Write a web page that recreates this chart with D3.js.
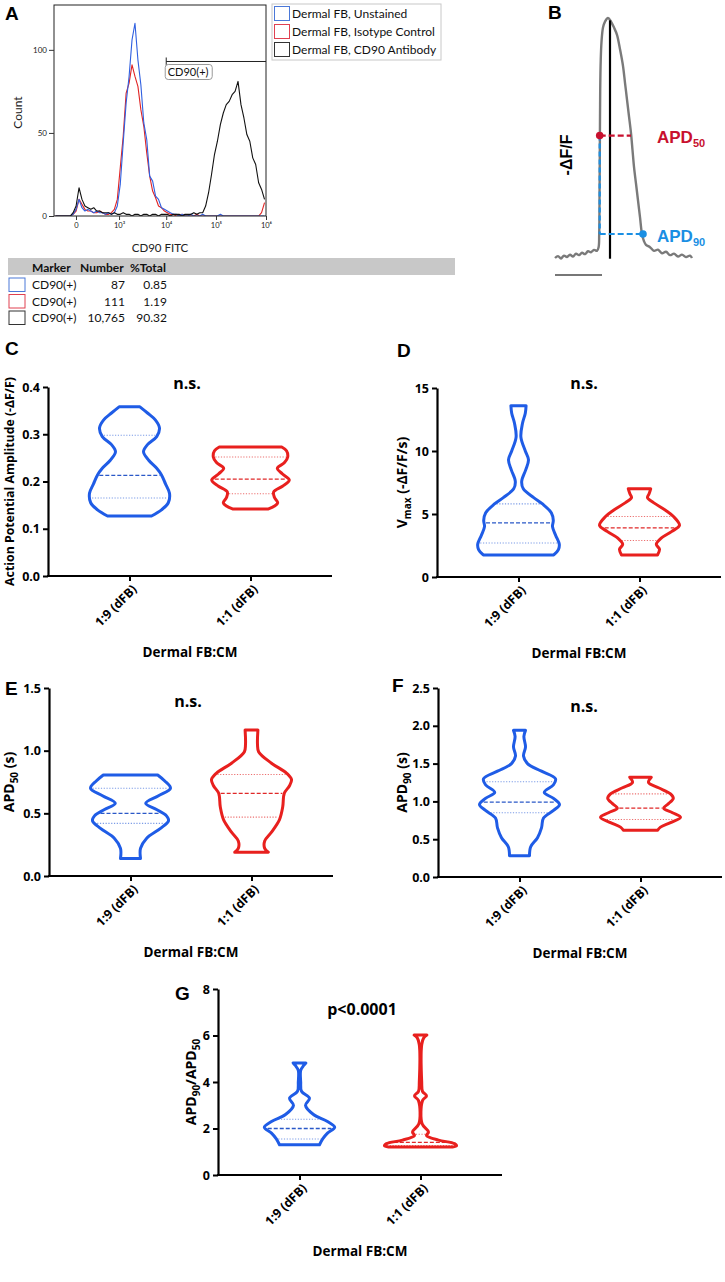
<!DOCTYPE html>
<html><head><meta charset="utf-8">
<script src="https://cdn.jsdelivr.net/npm/d3@7/dist/d3.min.js"></script>
<style>html,body{margin:0;padding:0;background:#fff;} svg{display:block;}</style>
</head><body>
<svg id="fig" width="725" height="1282"></svg>
<script>
// ================= DATA =================
// Panel A: flow cytometry histograms (counts per display channel)
const histUnstained = [0,0,0,0,0,0,1, 4,10,5,3,4,3,2,3,2,2,1,2,1,2,
  6,19,44,68,84,106,116,94,79,56,46,24,21,12,10,5,4,3,2,1,1,
  0,1,0,0,1,0,0,0,1,0,0,0,0,0,1,0,0,0,0,0,0,0,0,0,0,0,0,0,0,0];
const histIsotype = [0,0,0,0,0,0,1, 3,10,7,4,3,3,2,2,3,2,1,1,2,4,
  10,29,48,74,80,91,84,78,64,54,38,24,15,11,6,5,3,2,1,1,
  0,0,1,0,0,0,0,1,0,0,0,0,0,0,0,0,0,0,0,0,0,0,0,0,0,0,0,0,0,2,8];
const histCD90 = [0,0,0,0,0,0,2, 6,17,10,6,5,4,5,3,3,2,2,2,1,2,
  1,1,2,1,1,0,1,1,0,1,1,0,1,1,0,1,1,1,0,1,1,1,0,1,1,1,2,1,2,2,
  6,14,25,37,45,55,62,67,69,73,75,81,67,59,49,45,35,31,20,16,10];
const fitcTicks = [0, 1e3, 1e4, 1e5, 1e6];
const fitcTickLabels = ["0", "10³", "10⁴", "10⁵", "10⁶"];
const countTicks = [0, 50, 100];
const histSeriesNames = ["Dermal FB, Unstained", "Dermal FB, Isotype Control", "Dermal FB, CD90 Antibody"];
const gateLabel = "CD90(+)";
const gateRange = [1e4, 1e6];
const gateCount = 93;
const tableHeader = ["Marker", "Number", "%Total"];
const tableMarker = ["CD90(+)", "CD90(+)", "CD90(+)"];
const tableNumber = ["87", "111", "10,765"];
const tablePercent = ["0.85", "1.19", "90.32"];

// Panel B: optical action potential trace (time ms, normalized -dF/F)
const traceTime = [0,30,60,90,120,150,180,210,240,270,300,330,360,390,420,436,442,446,449,452,457,465,480,500,530,
  560,590,620,650,680,700,720,740,760,775,790,810,830,850,870,890,910,950,990,1030,1070,1110,1150,1190,1230,1270,1310,1350,1370];
const traceValue = [0.0,0.008,-0.002,0.01,0.004,0.014,0.006,0.018,0.012,0.022,0.016,0.028,0.024,0.034,0.03,0.045,0.1,0.3,0.5,0.7,0.82,0.9,0.96,0.985,1.0,
  0.985,0.96,0.93,0.87,0.80,0.73,0.66,0.59,0.52,0.45,0.38,0.31,0.24,0.17,0.10,0.07,0.055,0.045,0.03,0.035,0.02,0.026,0.012,0.018,0.006,0.014,0.004,0.01,0.0];
const peakTime = 550;
const apd50 = {level: 0.51, start: 447, end: 760};
const apd90 = {level: 0.10, start: 447, end: 880};
const scaleBarMs = 500;

// Panels C-G: violin profiles [value, relative density], quartiles [Q1, median, Q3]
const groupLabels = ["1:9 (dFB)", "1:1 (dFB)"];
const ampBlue = [[0.358,0.26],[0.345,0.45],[0.33,0.65],[0.313,0.75],[0.295,0.68],[0.278,0.45],[0.263,0.35],[0.245,0.48],[0.228,0.68],[0.214,0.8],[0.195,0.9],[0.175,1.0],[0.155,0.97],[0.14,0.8],[0.127,0.55]];
const ampRed = [[0.273,0.78],[0.265,0.9],[0.252,0.93],[0.24,0.85],[0.228,0.67],[0.216,0.8],[0.203,0.97],[0.19,0.8],[0.178,0.58],[0.166,0.6],[0.155,0.68],[0.148,0.6],[0.142,0.45]];
const ampQuartBlue = [0.165, 0.213, 0.298];
const ampQuartRed = [0.174, 0.205, 0.252];

const vmaxBlue = [[13.6,0.19],[13.0,0.17],[12.2,0.1],[11.1,0.06],[10.0,0.17],[9.3,0.25],[8.5,0.18],[7.6,0.08],[7.0,0.12],[6.3,0.38],[5.8,0.6],[5.1,0.82],[4.5,0.87],[4.0,0.85],[3.3,0.93],[2.6,1.02],[2.2,1.0],[1.75,0.88]];
const vmaxRed = [[7.0,0.28],[6.6,0.24],[6.3,0.2],[5.9,0.35],[5.3,0.65],[4.8,0.85],[4.1,1.0],[3.6,0.8],[3.1,0.55],[2.6,0.42],[2.2,0.5],[1.75,0.45]];
const vmaxQuartBlue = [2.7, 4.3, 5.8];
const vmaxQuartRed = [2.9, 3.9, 4.8];

const apd50Blue = [[0.806,0.68],[0.76,0.85],[0.70,1.0],[0.64,0.7],[0.58,0.38],[0.53,0.65],[0.48,0.9],[0.44,0.95],[0.38,0.75],[0.30,0.4],[0.22,0.25],[0.14,0.25]];
const apd50Red = [[1.165,0.16],[1.05,0.15],[0.99,0.18],[0.90,0.5],[0.82,0.88],[0.77,1.0],[0.72,0.95],[0.66,0.82],[0.55,0.78],[0.45,0.7],[0.35,0.5],[0.28,0.33],[0.22,0.33],[0.19,0.42]];
const apd50QuartBlue = [0.42, 0.50, 0.70];
const apd50QuartRed = [0.47, 0.66, 0.81];

const apd90Blue = [[1.94,0.15],[1.86,0.11],[1.72,0.15],[1.6,0.1],[1.5,0.2],[1.4,0.55],[1.3,0.9],[1.22,0.85],[1.12,0.62],[1.04,0.85],[0.96,1.0],[0.88,0.85],[0.78,0.6],[0.65,0.55],[0.52,0.45],[0.4,0.28],[0.28,0.25]];
const apd90Red = [[1.32,0.27],[1.25,0.2],[1.18,0.45],[1.1,0.75],[1.04,0.82],[0.97,0.7],[0.91,0.58],[0.85,0.8],[0.79,1.0],[0.72,0.75],[0.66,0.5],[0.62,0.43]];
const apd90QuartBlue = [0.85, 0.99, 1.26];
const apd90QuartRed = [0.76, 0.91, 1.10];

const ratioBlue = [[4.82,0.16],[4.7,0.1],[4.5,0.03],[4.0,0.03],[3.6,0.05],[3.3,0.25],[3.0,0.15],[2.6,0.35],[2.3,0.7],[2.05,0.88],[1.8,0.7],[1.55,0.58],[1.3,0.5]];
const ratioRed = [[6.02,0.16],[5.9,0.08],[5.6,0.03],[4.0,0.03],[3.6,0.05],[3.4,0.15],[3.2,0.05],[2.2,0.04],[1.85,0.2],[1.7,0.15],[1.5,0.45],[1.35,0.85],[1.25,0.9],[1.2,0.8]];
const ratioQuartBlue = [1.55, 2.0, 2.4];
const ratioQuartRed = [1.27, 1.4, 1.75];

// ================= DRAWING =================
const svg = d3.select("#fig");
const LETTER_FONT = "bold 19px 'Liberation Sans', Arial, sans-serif";
const A_FONT = "Lato, 'Open Sans', sans-serif";
const V_FONT = "'Open Sans', sans-serif";

function letter(t, x, y) {
  svg.append("text").attr("x", x).attr("y", y).style("font", LETTER_FONT).attr("fill", "#000").text(t);
}

// ---------- Panel A ----------
(function () {
  const A = {left: 54, right: 266, top: 5, bottom: 216};
  const xChan = d3.scaleLinear().domain([0, histUnstained.length]).range([A.left, A.right]);
  const xFitc = d3.scaleSymlog().constant(160).domain([-280, 1e6]).range([A.left, A.right]);
  const yCount = d3.scaleLinear().domain([0, 127]).range([A.bottom, A.top]);
  const g = svg.append("g");
  letter("A", 5, 20);
  g.append("defs").append("clipPath").attr("id", "clipA").append("rect")
    .attr("x", A.left).attr("y", A.top).attr("width", A.right - A.left).attr("height", A.bottom - A.top);
  const line = d3.line().x((d, i) => xChan(i + 0.5)).y(d => yCount(d));
  [[histIsotype, "#e02424"], [histUnstained, "#2f5fe0"], [histCD90, "#111111"]].forEach(([s, col]) => {
    g.append("path").attr("clip-path", "url(#clipA)").attr("d", line(s))
      .attr("fill", "none").attr("stroke", col).attr("stroke-width", 1.1).attr("stroke-linejoin", "round");
  });
  g.append("rect").attr("x", A.left).attr("y", A.top).attr("width", A.right - A.left).attr("height", A.bottom - A.top)
    .attr("fill", "none").attr("stroke", "#222").attr("stroke-width", 1);
  const ya = g.append("g").attr("transform", `translate(${A.left},0)`)
    .call(d3.axisLeft(yCount).tickValues(countTicks).tickSize(5).tickPadding(2));
  ya.select(".domain").remove();
  ya.selectAll(".tick line").attr("stroke", "#333");
  ya.selectAll(".tick text").style("font", `8px ${A_FONT}`).attr("fill", "#222");
  const xa = g.append("g").attr("transform", `translate(0,${A.bottom})`)
    .call(d3.axisBottom(xFitc).tickValues(fitcTicks).tickFormat((d, i) => fitcTickLabels[i]).tickSize(4).tickPadding(3));
  xa.select(".domain").remove();
  xa.selectAll(".tick line").attr("stroke", "#333");
  xa.selectAll(".tick text").style("font", `7.5px ${A_FONT}`).attr("fill", "#222");
  g.append("text").attr("transform", `translate(22,${(A.top + A.bottom) / 2 + 2}) rotate(-90)`).attr("text-anchor", "middle")
    .style("font", `12px ${A_FONT}`).attr("fill", "#222").text("Count");
  g.append("text").attr("x", 160).attr("y", 252).attr("text-anchor", "middle")
    .style("font", `11.5px ${A_FONT}`).attr("fill", "#222").text("CD90 FITC");
  // gate
  const gy = yCount(gateCount);
  g.append("line").attr("x1", xFitc(gateRange[0])).attr("x2", xFitc(gateRange[1])).attr("y1", gy).attr("y2", gy).attr("stroke", "#222");
  g.append("line").attr("x1", xFitc(gateRange[0])).attr("x2", xFitc(gateRange[0])).attr("y1", gy - 4).attr("y2", gy + 4).attr("stroke", "#222");
  g.append("rect").attr("x", xFitc(gateRange[0]) - 1).attr("y", gy + 3).attr("width", 47).attr("height", 15).attr("rx", 3)
    .attr("fill", "#fff").attr("stroke", "#999");
  g.append("text").attr("x", xFitc(gateRange[0]) + 1.5).attr("y", gy + 14.5).style("font", `11px ${A_FONT}`).attr("fill", "#111").text(gateLabel);
  // legend
  const swatch = ["#4a78d8", "#e04050", "#333"];
  const lg = g.append("g");
  lg.append("rect").attr("x", 272).attr("y", 4).attr("width", 169).attr("height", 56).attr("fill", "#fff").attr("stroke", "#c8c8c8");
  histSeriesNames.forEach((n, i) => {
    lg.append("rect").attr("x", 274.5).attr("y", 6.5 + i * 18).attr("width", 15).attr("height", 14)
      .attr("fill", "#fff").attr("stroke", swatch[i]).attr("stroke-width", 1);
    lg.append("text").attr("x", 292).attr("y", 18 + i * 18).style("font", `12px ${A_FONT}`).attr("fill", "#111").text(n);
  });
  // table
  const tg = g.append("g");
  tg.append("rect").attr("x", 8).attr("y", 258).attr("width", 447).attr("height", 17).attr("fill", "#c8c8c8");
  [32, 80, 130].forEach((hx, i) => {
    tg.append("text").attr("x", hx).attr("y", 271.5).style("font", `bold 12px ${A_FONT}`).attr("fill", "#111").text(tableHeader[i]);
  });
  tableMarker.forEach((m, i) => {
    const yb = 289 + i * 16.5;
    tg.append("rect").attr("x", 9).attr("y", yb - 11).attr("width", 16).attr("height", 13.5)
      .attr("fill", "#fff").attr("stroke", swatch[i]).attr("stroke-width", 1);
    tg.append("text").attr("x", 32).attr("y", yb).style("font", `12px ${A_FONT}`).attr("fill", "#111").text(m);
    tg.append("text").attr("x", 125).attr("y", yb).attr("text-anchor", "end").style("font", `12px ${A_FONT}`).attr("fill", "#111").text(tableNumber[i]);
    tg.append("text").attr("x", 167).attr("y", yb).attr("text-anchor", "end").style("font", `12px ${A_FONT}`).attr("fill", "#111").text(tablePercent[i]);
  });
})();

// ---------- Panel B ----------
(function () {
  const g = svg.append("g");
  letter("B", 548, 19);
  const xt = d3.scaleLinear().domain([0, 1370]).range([555, 692]);
  const yv = d3.scaleLinear().domain([0, 1]).range([258, 18]);
  const pts = traceTime.map((t, i) => [t, traceValue[i]]);
  g.append("path").attr("d", d3.line().x(d => xt(d[0])).y(d => yv(d[1])).curve(d3.curveCatmullRom)(pts))
    .attr("fill", "none").attr("stroke", "#7a7a7a").attr("stroke-width", 2.4).attr("stroke-linejoin", "round");
  g.append("line").attr("x1", xt(peakTime)).attr("x2", xt(peakTime)).attr("y1", yv(0.99)).attr("y2", yv(-0.003))
    .attr("stroke", "#000").attr("stroke-width", 2.2);
  const red = "#c8102e", blue = "#1a8fe3";
  g.append("line").attr("x1", xt(apd90.start)).attr("x2", xt(apd90.start)).attr("y1", yv(apd50.level)).attr("y2", yv(apd90.level))
    .attr("stroke", blue).attr("stroke-width", 2.2).attr("stroke-dasharray", "5,3");
  g.append("line").attr("x1", xt(apd90.start)).attr("x2", xt(apd90.end)).attr("y1", yv(apd90.level)).attr("y2", yv(apd90.level))
    .attr("stroke", blue).attr("stroke-width", 2.2).attr("stroke-dasharray", "6,3");
  g.append("line").attr("x1", xt(apd50.start)).attr("x2", xt(apd50.end)).attr("y1", yv(apd50.level)).attr("y2", yv(apd50.level))
    .attr("stroke", red).attr("stroke-width", 2.2).attr("stroke-dasharray", "6,3");
  g.append("circle").attr("cx", xt(apd50.start)).attr("cy", yv(apd50.level)).attr("r", 3.8).attr("fill", red);
  g.append("circle").attr("cx", xt(apd90.end)).attr("cy", yv(apd90.level)).attr("r", 3.8).attr("fill", blue);
  const f = "'Liberation Sans', Arial, sans-serif";
  const t1 = g.append("text").attr("x", 657).attr("y", yv(apd50.level) + 7).attr("fill", red).style("font", `bold 17px ${f}`);
  t1.append("tspan").text("APD");
  t1.append("tspan").attr("dy", 4).style("font-size", "11px").text("50");
  const t2 = g.append("text").attr("x", 657).attr("y", yv(apd90.level) + 8).attr("fill", blue).style("font", `bold 17px ${f}`);
  t2.append("tspan").text("APD");
  t2.append("tspan").attr("dy", 4).style("font-size", "11px").text("90");
  g.append("text").attr("transform", `translate(572,155) rotate(-90)`).attr("text-anchor", "middle")
    .style("font", `bold 16px ${f}`).attr("fill", "#000").text("-ΔF/F");
  g.append("line").attr("x1", xt(0)).attr("x2", xt(scaleBarMs) - 3).attr("y1", 275).attr("y2", 275)
    .attr("stroke", "#777").attr("stroke-width", 2.2);
})();

// ---------- Violin panels ----------
const violinColors = ["#1f5ce6", "#e8201e"];
const medianColors = ["#2a58c8", "#e02828"];
const quartColors = ["#7b9be6", "#ec7070"];

function halfWidthAt(profile, v) {
  for (let i = 0; i < profile.length - 1; i++) {
    const a = profile[i], b = profile[i + 1];
    if (v <= a[0] && v >= b[0]) { const t = (a[0] - v) / (a[0] - b[0]); return a[1] + t * (b[1] - a[1]); }
  }
  return 0;
}

function drawViolinPanel(cfg) {
  const g = svg.append("g");
  letter(cfg.letter, cfg.letterPos[0], cfg.letterPos[1]);
  const y = d3.scaleLinear().domain(cfg.domain).range([cfg.bottom, cfg.top]);
  const x = d3.scalePoint().domain(groupLabels).range([cfg.left + 81.5, cfg.left + 202.5]);
  const w = d3.scaleLinear().domain([0, 1]).range([0, 40]);

  const ya = g.append("g").attr("transform", `translate(${cfg.left},0)`)
    .call(d3.axisLeft(y).tickValues(cfg.ticks).tickFormat(d3.format(cfg.fmt)).tickSize(5).tickSizeOuter(0).tickPadding(3));
  ya.select(".domain").attr("stroke", "#000").attr("stroke-width", 2.2);
  ya.selectAll(".tick line").attr("stroke", "#000").attr("stroke-width", 2);
  ya.selectAll(".tick text").attr("fill", "#000").style("font", `bold 12.5px ${V_FONT}`);
  g.append("line").attr("x1", cfg.left - 1).attr("x2", cfg.left + 284).attr("y1", y(0)).attr("y2", y(0))
    .attr("stroke", "#000").attr("stroke-width", 2.2);
  const xa = g.append("g").attr("transform", `translate(0,${y(0)})`)
    .call(d3.axisBottom(x).tickSize(5).tickSizeOuter(0).tickFormat(""));
  xa.select(".domain").remove();
  xa.selectAll(".tick line").attr("stroke", "#000").attr("stroke-width", 2);
  groupLabels.forEach(lab => {
    g.append("text").attr("transform", `translate(${x(lab) + 5},${y(0) + 11}) rotate(-45)`)
      .attr("text-anchor", "end").attr("dy", "0.35em").style("font", `bold 12.5px ${V_FONT}`).attr("fill", "#000").text(lab);
  });
  g.append("text").attr("x", cfg.left + 142).attr("y", y(0) + 81).attr("text-anchor", "middle")
    .style("font", `bold 13.5px ${V_FONT}`).attr("fill", "#000").text("Dermal FB:CM");
  g.append("text").attr("x", cfg.sigX).attr("y", cfg.sigY).attr("text-anchor", "middle")
    .style("font", `bold 16px ${V_FONT}`).attr("fill", "#000").text(cfg.sig);
  const tt = g.append("text").attr("transform", `translate(${cfg.titleX},${(cfg.top + cfg.bottom) / 2}) rotate(-90)`)
    .attr("text-anchor", "middle").style("font", `bold ${cfg.titleSize}px ${V_FONT}`).attr("fill", "#000");
  cfg.title.forEach(p => {
    if (p[1] === "sub") {
      tt.append("tspan").attr("dy", 4).style("font-size", (cfg.titleSize - 4) + "px").text(p[0]);
    } else {
      tt.append("tspan").attr("dy", p[1] === "after" ? -4 : 0).text(p[0]);
    }
  });

  const area = d3.area().y(d => y(d[0])).curve(d3.curveCatmullRom.alpha(0.5));
  cfg.profiles.forEach((prof, i) => {
    const cx = x(groupLabels[i]);
    const q = cfg.quartiles[i];
    q.forEach((qv, k) => {
      const hw = w(halfWidthAt(prof, qv)) - 2;
      g.append("line").attr("x1", cx - hw).attr("x2", cx + hw).attr("y1", y(qv)).attr("y2", y(qv))
        .attr("stroke", k === 1 ? medianColors[i] : quartColors[i])
        .attr("stroke-width", k === 1 ? 1.3 : 1.1)
        .attr("stroke-dasharray", k === 1 ? "4,2" : "1.2,1.6");
    });
    g.append("path").attr("d", area.x0(d => cx - w(d[1])).x1(d => cx + w(d[1]))(prof))
      .attr("fill", "none").attr("stroke", violinColors[i]).attr("stroke-width", 3).attr("stroke-linejoin", "round");
  });
}

drawViolinPanel({letter: "C", letterPos: [5, 355], left: 48, top: 387, bottom: 576, domain: [0, 0.4], ticks: [0, 0.1, 0.2, 0.3, 0.4], fmt: ".1f",
  sig: "n.s.", sigX: 187, sigY: 389, titleX: 14, titleSize: 12.3, title: [["Action Potential Amplitude (-ΔF/F)"]],
  profiles: [ampBlue, ampRed], quartiles: [ampQuartBlue, ampQuartRed]});
drawViolinPanel({letter: "D", letterPos: [397, 357], left: 437, top: 388, bottom: 577, domain: [0, 15], ticks: [0, 5, 10, 15], fmt: "d",
  sig: "n.s.", sigX: 584, sigY: 389, titleX: 407, titleSize: 14, title: [["V"], ["max", "sub"], [" (-ΔF/F/s)", "after"]],
  profiles: [vmaxBlue, vmaxRed], quartiles: [vmaxQuartBlue, vmaxQuartRed]});
drawViolinPanel({letter: "E", letterPos: [5, 695], left: 49, top: 688, bottom: 876, domain: [0, 1.5], ticks: [0, 0.5, 1.0, 1.5], fmt: ".1f",
  sig: "n.s.", sigX: 188, sigY: 707, titleX: 14, titleSize: 14, title: [["APD"], ["50", "sub"], [" (s)", "after"]],
  profiles: [apd50Blue, apd50Red], quartiles: [apd50QuartBlue, apd50QuartRed]});
drawViolinPanel({letter: "F", letterPos: [392, 692], left: 438, top: 688, bottom: 877, domain: [0, 2.5], ticks: [0, 0.5, 1.0, 1.5, 2.0, 2.5], fmt: ".1f",
  sig: "n.s.", sigX: 584, sigY: 712, titleX: 407, titleSize: 14, title: [["APD"], ["90", "sub"], [" (s)", "after"]],
  profiles: [apd90Blue, apd90Red], quartiles: [apd90QuartBlue, apd90QuartRed]});
drawViolinPanel({letter: "G", letterPos: [175, 1000], left: 218, top: 989, bottom: 1175, domain: [0, 8], ticks: [0, 2, 4, 6, 8], fmt: "d",
  sig: "p<0.0001", sigX: 362, sigY: 1015, titleX: 196, titleSize: 14, title: [["APD"], ["90", "sub"], ["/APD", "after"], ["50", "sub"]],
  profiles: [ratioBlue, ratioRed], quartiles: [ratioQuartBlue, ratioQuartRed]});
</script>
</body></html>
